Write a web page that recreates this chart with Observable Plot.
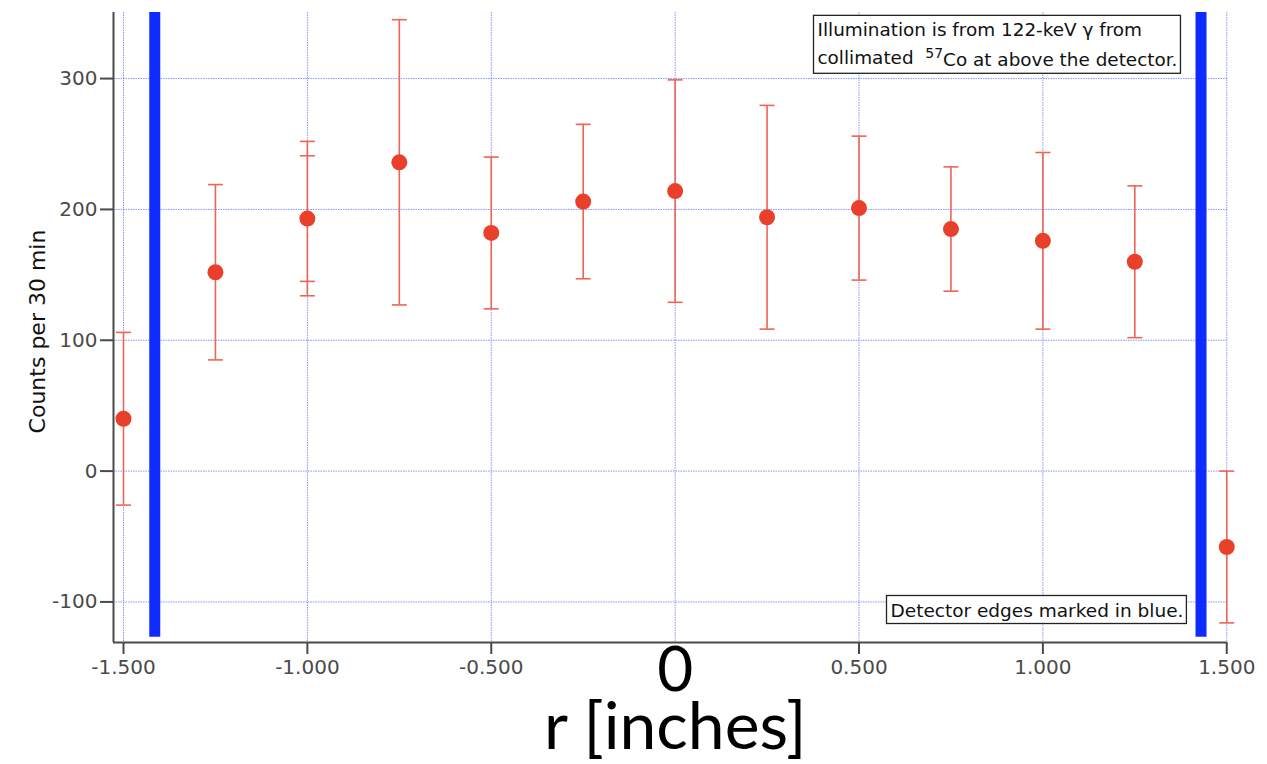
<!DOCTYPE html>
<html>
<head>
<meta charset="utf-8">
<script src="https://cdn.jsdelivr.net/npm/d3@7"></script>
<script src="https://cdn.jsdelivr.net/npm/@observablehq/plot@0.6"></script>
<style>
  html, body { margin: 0; padding: 0; background: #fff; }
  #chart { width: 1267px; height: 764px; }
</style>
</head>
<body>
<div id="chart"></div>
<script>
// ---- data ----
const rValues = [-1.5, -1.25, -1.0, -0.75, -0.5, -0.25, 0, 0.25, 0.5, 0.75, 1.0, 1.25, 1.5];
const counts  = [40, 152, 193, 236, 182, 206, 214, 194, 201, 185, 176, 160, -58];
const errors  = [66, 67, 59, 109, 58, 59, 85, 85.5, 55, 47.5, 67.5, 58, 58];
// second (smaller) error bar drawn on one point
const innerErrR = [-1.0];
const innerErrCount = [193];
const innerErr = [48];
// detector edges (blue)
const detectorEdges = [-1.415, 1.43];
const edgeBottom = -127;

const xTicks = [-1.5, -1.0, -0.5, 0.5, 1.0, 1.5];
const xGrid = [-1.5, -1.0, -0.5, 0, 0.5, 1.0, 1.5];
const yTicks = [-100, 0, 100, 200, 300];
const xDomain = [-1.5272, 1.502];
const yDomain = [-131, 350.5];

const yLabel = "Counts per 30 min";
const xLabel = "r [inches]";
const zeroLabel = "0";
const note1 = "Illumination is from 122-keV \u03b3 from\ncollimated  57Co at above the detector.";
const note2 = "Detector edges marked in blue.";

const data = rValues.map((r, i) => ({r, c: counts[i], e: errors[i]}));
const inner = innerErrR.map((r, i) => ({r, c: innerErrCount[i], e: innerErr[i]}));

// horizontal cap symbol for error bars
const capSymbol = {
  draw(context, size) {
    const w = Math.sqrt(size / Math.PI);
    context.moveTo(-w, 0);
    context.lineTo(w, 0);
  }
};

const red = "#e8402a";
const barRed = "#ef6452";
const blue = "#0f2cff";
const gridColor = "#8793ff";
const axisColor = "#4a4a4a";
const tickFont = "DejaVu Sans";
const bigFont = "Lato";

const plot = Plot.plot({
  width: 1267,
  height: 764,
  marginLeft: 113,
  marginRight: 40,
  marginTop: 12,
  marginBottom: 122,
  style: {fontFamily: tickFont, fontSize: "20px", background: "#fff", overflow: "visible"},
  x: {domain: xDomain, label: null},
  y: {domain: yDomain, label: null},
  marks: [
    Plot.gridX(xGrid, {stroke: gridColor, strokeOpacity: 1, strokeWidth: 1, strokeDasharray: "1.5,1"}),
    Plot.gridY(yTicks, {stroke: gridColor, strokeOpacity: 1, strokeWidth: 1, strokeDasharray: "1.5,1"}),
    Plot.ruleX(detectorEdges, {y1: edgeBottom, y2: yDomain[1], stroke: blue, strokeWidth: 11}),
    // error bars
    Plot.ruleX(data, {x: "r", y1: d => d.c - d.e, y2: d => d.c + d.e, stroke: barRed, strokeWidth: 1.6}),
    Plot.dot(data, {x: "r", y: d => d.c + d.e, symbol: capSymbol, r: 7.5, stroke: barRed, strokeWidth: 1.6, fill: "none"}),
    Plot.dot(data, {x: "r", y: d => d.c - d.e, symbol: capSymbol, r: 7.5, stroke: barRed, strokeWidth: 1.6, fill: "none"}),
    Plot.dot(inner, {x: "r", y: d => d.c + d.e, symbol: capSymbol, r: 7.5, stroke: barRed, strokeWidth: 1.6, fill: "none"}),
    Plot.dot(inner, {x: "r", y: d => d.c - d.e, symbol: capSymbol, r: 7.5, stroke: barRed, strokeWidth: 1.6, fill: "none"}),
    // points
    Plot.dot(data, {x: "r", y: "c", r: 8, fill: red, stroke: "none"}),
    // axes
    Plot.axisX({ticks: xTicks, tickFormat: d => d.toFixed(3), tickSize: 12, tickPadding: 5, color: axisColor, strokeWidth: 2, fontSize: 20}),
    Plot.axisY({ticks: yTicks, tickFormat: d => String(d), tickSize: 13, tickPadding: 3, color: axisColor, strokeWidth: 2, fontSize: 20}),
    Plot.ruleX([xDomain[0]], {stroke: axisColor, strokeWidth: 2}),
    Plot.ruleY([yDomain[0]], {stroke: axisColor, strokeWidth: 2}),
    // y label
    Plot.text([yLabel], {frameAnchor: "left", rotate: -90, textAnchor: "middle", dx: -76, dy: 4, fontSize: 22, fill: "#111", fontFamily: tickFont}),
    // notes
    Plot.text([note1], {frameAnchor: "top-left", textAnchor: "start", lineAnchor: "top", dx: 704, dy: 4, fontSize: 18.4, lineHeight: 1.52, fill: "#111", fontFamily: tickFont, className: "note1"}),
    Plot.text([note2], {frameAnchor: "bottom-left", textAnchor: "start", lineAnchor: "bottom", dx: 777, dy: -26, fontSize: 18.5, fill: "#111", fontFamily: tickFont, className: "note2"}),
    // big labels
    Plot.text([0], {x: d => d, frameAnchor: "bottom", text: () => zeroLabel, lineAnchor: "top", dy: 4, fontSize: 62, fill: "#000", fontFamily: bigFont}),
    Plot.text([0], {x: d => d, frameAnchor: "bottom", text: () => xLabel, lineAnchor: "top", dy: 60, fontSize: 66, fill: "#000", fontFamily: bigFont})
  ]
});

document.getElementById("chart").appendChild(plot);

// superscript "57" and boxes around the notes
const svg = d3.select(plot);
svg.selectAll("g.note1 text tspan").each(function() {
  const t = this.textContent;
  const idx = t.indexOf("57Co");
  if (idx >= 0) {
    const sel = d3.select(this);
    sel.text(t.slice(0, idx));
    const parent = this.parentNode;
    const next = this.nextSibling;
    const sup = document.createElementNS("http://www.w3.org/2000/svg", "tspan");
    sup.setAttribute("dy", "-0.45em");
    sup.setAttribute("font-size", "14");
    sup.textContent = "57";
    const rest = document.createElementNS("http://www.w3.org/2000/svg", "tspan");
    rest.setAttribute("dy", "0.45em");
    rest.textContent = t.slice(idx + 2);
    parent.insertBefore(sup, next);
    parent.insertBefore(rest, next);
  }
});
for (const cls of ["note1", "note2"]) {
  const g = plot.querySelector("g." + cls);
  if (!g) continue;
  const bb = g.getBBox();
  const rect = document.createElementNS("http://www.w3.org/2000/svg", "rect");
  rect.setAttribute("x", bb.x - 4);
  rect.setAttribute("y", bb.y - 4);
  rect.setAttribute("width", bb.width + 7);
  rect.setAttribute("height", bb.height + 7);
  rect.setAttribute("fill", "#fff");
  rect.setAttribute("stroke", "#222");
  rect.setAttribute("stroke-width", "1.3");
  g.insertBefore(rect, g.firstChild);
}
</script>
</body>
</html>
